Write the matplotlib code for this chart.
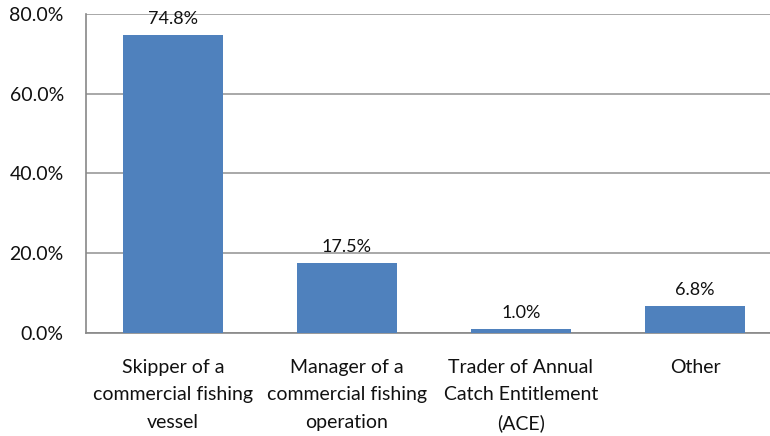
import matplotlib.pyplot as plt
from matplotlib.ticker import FuncFormatter

# role of respondents in the fishing industry
categories = ['Skipper of a\ncommercial fishing\nvessel',
              'Manager of a\ncommercial fishing\noperation',
              'Trader of Annual\nCatch Entitlement\n(ACE)',
              'Other']
shares = [74.8, 17.5, 1.0, 6.8]
yticks = [0, 20, 40, 60, 80]

plt.rcParams['font.family'] = ['Lato', 'DejaVu Sans']

fig = plt.figure(figsize=(7.7, 4.36), dpi=100, facecolor='white')
ax = fig.add_axes([86/770, 103/436, 696/770, 319/436])

x = range(len(categories))
ax.bar(x, shares, width=0.575, color='#4F81BD', zorder=3)
for xi, v in zip(x, shares):
    ax.text(xi, v + 2.0, '%.1f%%' % v, ha='center', va='bottom', fontsize=13, color='#111111')

ax.set_xlim(-0.5, 3.5)
ax.set_ylim(0, 80)
ax.set_yticks(yticks)
ax.yaxis.set_major_formatter(FuncFormatter(lambda v, p: '%.1f%%' % v))
ax.set_xticks(list(x))
ax.set_xticklabels(categories, fontsize=14, linespacing=1.72, color='#111111')
ax.tick_params(axis='y', labelsize=14, length=0, pad=16, labelcolor='#111111')
ax.tick_params(axis='x', length=0, pad=19)
ax.grid(axis='y', color='#999999', linewidth=1.2, zorder=0)

for s in ['top', 'right']:
    ax.spines[s].set_visible(False)
ax.spines['left'].set_color('#888888')
ax.spines['bottom'].set_color('#888888')
ax.spines['left'].set_linewidth(1.2)
ax.spines['bottom'].set_linewidth(1.2)

fig.savefig('out.png', dpi=100)
